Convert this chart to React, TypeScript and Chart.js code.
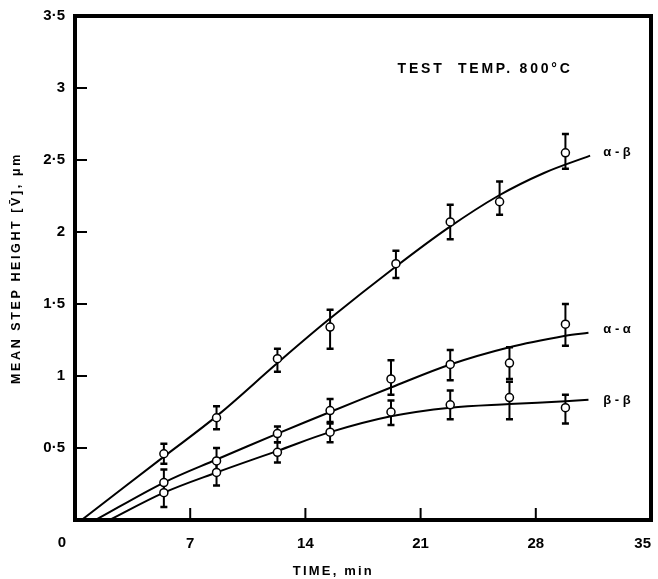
import React, { useEffect, useRef } from "react";
import { Chart, registerables } from "chart.js";

Chart.register(...registerables);

// Measured points (time, min) and mean step height (µm) with error-bar limits
const abX = [5.4, 8.6, 12.3, 15.5, 19.5, 22.8, 25.8, 29.8];
const abY = [0.46, 0.71, 1.12, 1.34, 1.78, 2.07, 2.21, 2.55];
const abHi = [0.53, 0.79, 1.19, 1.46, 1.87, 2.19, 2.35, 2.68];
const abLo = [0.39, 0.63, 1.03, 1.19, 1.68, 1.95, 2.12, 2.44];

const aaX = [5.4, 8.6, 12.3, 15.5, 19.2, 22.8, 26.4, 29.8];
const aaY = [0.26, 0.41, 0.6, 0.76, 0.98, 1.08, 1.09, 1.36];
const aaHi = [0.35, 0.5, 0.65, 0.84, 1.11, 1.18, 1.2, 1.5];
const aaLo = [0.18, 0.34, 0.54, 0.68, 0.87, 0.97, 0.98, 1.21];

const bbX = [5.4, 8.6, 12.3, 15.5, 19.2, 22.8, 26.4, 29.8];
const bbY = [0.19, 0.33, 0.47, 0.61, 0.75, 0.8, 0.85, 0.78];
const bbHi = [0.27, 0.4, 0.54, 0.67, 0.83, 0.9, 0.96, 0.87];
const bbLo = [0.09, 0.24, 0.4, 0.54, 0.66, 0.7, 0.7, 0.67];

// Fitted curves
const abFitX = [0.4, 5.4, 8.7, 12.3, 15.4, 19.5, 22.7, 25.7, 28.5, 31.3];
const abFitY = [0, 0.44, 0.73, 1.09, 1.39, 1.76, 2.03, 2.25, 2.41, 2.53];
const aaFitX = [1.25, 5.4, 8.6, 12.3, 15.5, 19.2, 22.8, 26.4, 29.8, 31.2];
const aaFitY = [0, 0.26, 0.42, 0.6, 0.75, 0.92, 1.08, 1.2, 1.28, 1.3];
const bbFitX = [2.1, 5.4, 8.6, 12.3, 15.5, 19.2, 22.8, 26.4, 29.8, 31.2];
const bbFitY = [0, 0.19, 0.33, 0.48, 0.61, 0.72, 0.78, 0.805, 0.825, 0.835];

const xTicks = [0, 7, 14, 21, 28, 35];
const yTicks = [0, 0.5, 1, 1.5, 2, 2.5, 3, 3.5];

const curveLabels = ["α - β", "α - α", "β - β"];
const curveLabelAt = [2.55, 1.32, 0.83];

const annotation = "TEST  TEMP. 800°C";
const xTitle = "TIME, min";
const yTitle = "MEAN STEP HEIGHT [V\u0304], μm";

const FONT = "'Liberation Sans', Arial, sans-serif";

const zip = (xs: number[], ys: number[]) => xs.map((x, i) => ({ x, y: ys[i] }));

const series = [
  { xs: abX, ys: abY, hi: abHi, lo: abLo },
  { xs: aaX, ys: aaY, hi: aaHi, lo: aaLo },
  { xs: bbX, ys: bbY, hi: bbHi, lo: bbLo },
];

const decorPlugin = {
  id: "decor",
  beforeDatasetsDraw(chart: any) {
    const { ctx, scales } = chart;
    const xs = scales.x;
    const ys = scales.y;
    ctx.save();
    ctx.strokeStyle = "#000";
    ctx.lineCap = "butt";
    series.forEach((s) => {
      s.xs.forEach((xv, i) => {
        const px = xs.getPixelForValue(xv);
        const top = ys.getPixelForValue(s.hi[i]);
        const bot = ys.getPixelForValue(s.lo[i]);
        ctx.lineWidth = 2;
        ctx.beginPath();
        ctx.moveTo(px, top);
        ctx.lineTo(px, bot);
        ctx.stroke();
        ctx.lineWidth = 2.5;
        ctx.beginPath();
        ctx.moveTo(px - 3.5, top);
        ctx.lineTo(px + 3.5, top);
        ctx.moveTo(px - 3.5, bot);
        ctx.lineTo(px + 3.5, bot);
        ctx.stroke();
      });
    });
    ctx.restore();
  },
  afterDatasetsDraw(chart: any) {
    const { ctx, chartArea, scales } = chart;
    const xs = scales.x;
    const ys = scales.y;
    const { left, right, top, bottom } = chartArea;
    ctx.save();
    ctx.strokeStyle = "#000";
    ctx.fillStyle = "#000";
    // inner tick marks
    ctx.lineWidth = 2;
    xTicks.slice(1, -1).forEach((v) => {
      const px = xs.getPixelForValue(v);
      ctx.beginPath();
      ctx.moveTo(px, bottom);
      ctx.lineTo(px, bottom - 12);
      ctx.stroke();
    });
    yTicks.slice(1, -1).forEach((v) => {
      const py = ys.getPixelForValue(v);
      ctx.beginPath();
      ctx.moveTo(left, py);
      ctx.lineTo(left + 12, py);
      ctx.stroke();
    });
    // frame
    ctx.lineWidth = 4;
    ctx.strokeRect(left, top, right - left, bottom - top);
    // corner zero
    ctx.font = `bold 15px ${FONT}`;
    ctx.textAlign = "center";
    ctx.textBaseline = "middle";
    ctx.fillText("0", left - 13, bottom + 23);
    // curve labels
    ctx.font = `bold 13px ${FONT}`;
    ctx.textAlign = "left";
    curveLabels.forEach((t, i) => {
      ctx.fillText(t, xs.getPixelForValue(32.1), ys.getPixelForValue(curveLabelAt[i]));
    });
    // annotation
    (ctx as any).letterSpacing = "2.8px";
    ctx.font = `bold 14px ${FONT}`;
    ctx.fillText(annotation, xs.getPixelForValue(19.6), ys.getPixelForValue(3.13));
    // x title
    ctx.textAlign = "center";
    ctx.font = `bold 13px ${FONT}`;
    (ctx as any).letterSpacing = "2.2px";
    ctx.fillText(xTitle, xs.getPixelForValue(15.7), bottom + 51);
    // y title
    ctx.font = `bold 12.5px ${FONT}`;
    (ctx as any).letterSpacing = "2.6px";
    ctx.translate(17, (top + bottom) / 2);
    ctx.rotate(-Math.PI / 2);
    ctx.fillText(yTitle, 0, 0);
    ctx.restore();
  },
};

export default function App() {
  const ref = useRef<HTMLCanvasElement | null>(null);

  useEffect(() => {
    document.body.style.margin = "0";
    const canvas = ref.current;
    if (!canvas) return;
    const pointStyle = {
      type: "scatter" as const,
      showLine: false,
      pointRadius: 4,
      pointBorderWidth: 1.5,
      pointBackgroundColor: "#fff",
      pointBorderColor: "#000",
    };
    const lineStyle = {
      type: "line" as const,
      showLine: true,
      pointRadius: 0,
      borderColor: "#000",
      borderWidth: 2,
      tension: 0.35,
      fill: false,
    };
    const chart = new Chart(canvas, {
      type: "scatter",
      data: {
        datasets: [
          { ...pointStyle, label: "α-β", data: zip(abX, abY) },
          { ...pointStyle, label: "α-α", data: zip(aaX, aaY) },
          { ...pointStyle, label: "β-β", data: zip(bbX, bbY) },
          { ...lineStyle, label: "α-β fit", data: zip(abFitX, abFitY) },
          { ...lineStyle, label: "α-α fit", data: zip(aaFitX, aaFitY) },
          { ...lineStyle, label: "β-β fit", data: zip(bbFitX, bbFitY) },
        ] as any,
      },
      options: {
        animation: false,
        responsive: false,
        maintainAspectRatio: false,
        layout: { autoPadding: false, padding: { top: 16, right: 7, left: 0, bottom: 0 } },
        plugins: { legend: { display: false }, tooltip: { enabled: false } },
        scales: {
          x: {
            type: "linear",
            min: 0,
            max: 35,
            afterBuildTicks: (s: any) => {
              s.ticks = xTicks.map((v) => ({ value: v }));
            },
            afterFit: (s: any) => {
              s.height = 59;
              s.paddingLeft = 0;
              s.paddingRight = 0;
            },
            grid: { display: false, drawTicks: false },
            border: { display: false },
            ticks: {
              align: "inner",
              padding: 15,
              color: "#000",
              font: { family: FONT, size: 15, weight: "bold" },
              callback: (v: any) => (v === 0 ? "" : String(v)),
            },
          },
          y: {
            type: "linear",
            min: 0,
            max: 3.5,
            afterBuildTicks: (s: any) => {
              s.ticks = yTicks.map((v) => ({ value: v }));
            },
            afterFit: (s: any) => {
              s.width = 75;
              s.paddingTop = 0;
              s.paddingBottom = 0;
            },
            grid: { display: false, drawTicks: false },
            border: { display: false },
            ticks: {
              padding: 10,
              color: "#000",
              font: { family: FONT, size: 15, weight: "bold" },
              callback: (v: any) => (v === 0 ? "" : String(v).replace(".", "·")),
            },
          },
        },
      } as any,
      plugins: [decorPlugin],
    });
    return () => chart.destroy();
  }, []);

  return (
    <div style={{ width: 658, height: 579 }}>
      <canvas ref={ref} width={658} height={579} style={{ width: 658, height: 579, display: "block" }} />
    </div>
  );
}
